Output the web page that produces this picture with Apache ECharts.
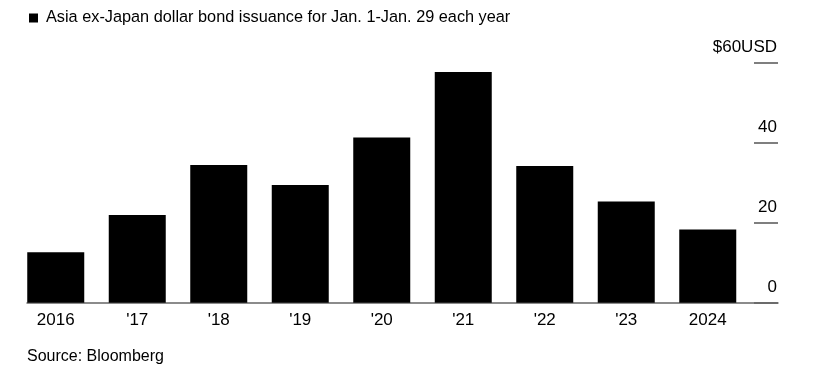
<!DOCTYPE html>
<html>
<head>
<meta charset="utf-8">
<script src="https://cdn.jsdelivr.net/npm/echarts@6/dist/echarts.min.js"></script>
<style>
  html, body { margin: 0; padding: 0; background: #fff; }
  #chart { width: 819px; height: 378px; }
</style>
</head>
<body>
<div id="chart"></div>
<script>
// Asia ex-Japan dollar bond issuance, Jan. 1-Jan. 29 (USD bn)
const years = ['2016', "'17", "'18", "'19", "'20", "'21", "'22", "'23", '2024']
const issuance = [12.6, 21.9, 34.4, 29.4, 41.3, 57.7, 34.2, 25.3, 18.3]
const yTicks = [0, 20, 40, 60]

const FONT = '"Liberation Sans", Arial, Helvetica, sans-serif'

const chart = echarts.init(document.getElementById('chart'), null, { renderer: 'canvas' })

const option = {
  animation: false,
  backgroundColor: '#fff',
  textStyle: { fontFamily: FONT },
  title: [
    {
      left: 29,
      top: 10,
      padding: 0,
      text: '{sq| }{t|Asia ex-Japan dollar bond issuance for Jan. 1-Jan. 29 each year}',
      textStyle: {
        fontWeight: 'normal',
        rich: {
          sq: { width: 9, height: 9, backgroundColor: '#000' },
          t: { fontSize: 16.3, fontWeight: 'normal', color: '#000', fontFamily: FONT, padding: [0, 0, 0, 8] }
        }
      }
    },
    {
      left: 27,
      top: 349,
      padding: 0,
      text: 'Source: Bloomberg',
      textStyle: { fontSize: 16, fontWeight: 'normal', color: '#000', fontFamily: FONT }
    }
  ],
  grid: [
    // bars
    { left: 15, right: 70.5, top: 62.7, bottom: 75.3 },
    // baseline
    { left: 27, right: 41, top: 62.7, bottom: 75.3 },
    // short gridlines + labels at the right
    { left: 754, right: 41, top: 62.7, bottom: 75.3 }
  ],
  xAxis: [
    {
      type: 'category',
      gridIndex: 0,
      data: years,
      axisLine: { show: false },
      axisTick: { show: false },
      axisLabel: { color: '#000', fontSize: 17, margin: 9, fontFamily: FONT }
    },
    {
      type: 'value',
      gridIndex: 1,
      min: 0,
      max: 1,
      axisLabel: { show: false },
      axisTick: { show: false },
      splitLine: { show: false },
      axisLine: { show: true, lineStyle: { color: '#666', width: 1.5 } }
    },
    {
      type: 'value',
      gridIndex: 2,
      min: 0,
      max: 1,
      show: false
    }
  ],
  yAxis: [
    {
      type: 'value',
      gridIndex: 0,
      min: 0,
      max: 60,
      show: false
    },
    {
      type: 'value',
      gridIndex: 1,
      min: 0,
      max: 60,
      show: false
    },
    {
      type: 'value',
      gridIndex: 2,
      position: 'right',
      min: 0,
      max: 60,
      interval: 20,
      axisLine: { show: false },
      axisTick: { show: false },
      splitLine: { show: true, lineStyle: { color: '#555', width: 1.5 } },
      axisLabel: {
        inside: true,
        margin: 1,
        color: '#000',
        fontSize: 17,
        fontFamily: FONT,
        verticalAlign: 'bottom',
        padding: [0, 0, 7, 0],
        formatter: v => (v === yTicks[yTicks.length - 1] ? '$' + v + 'USD' : String(v))
      }
    }
  ],
  series: [
    {
      name: 'Issuance',
      type: 'bar',
      xAxisIndex: 0,
      yAxisIndex: 0,
      data: issuance,
      barWidth: 57,
      itemStyle: { color: '#000' },
      silent: true
    }
  ]
}

chart.setOption(option)
</script>
</body>
</html>
